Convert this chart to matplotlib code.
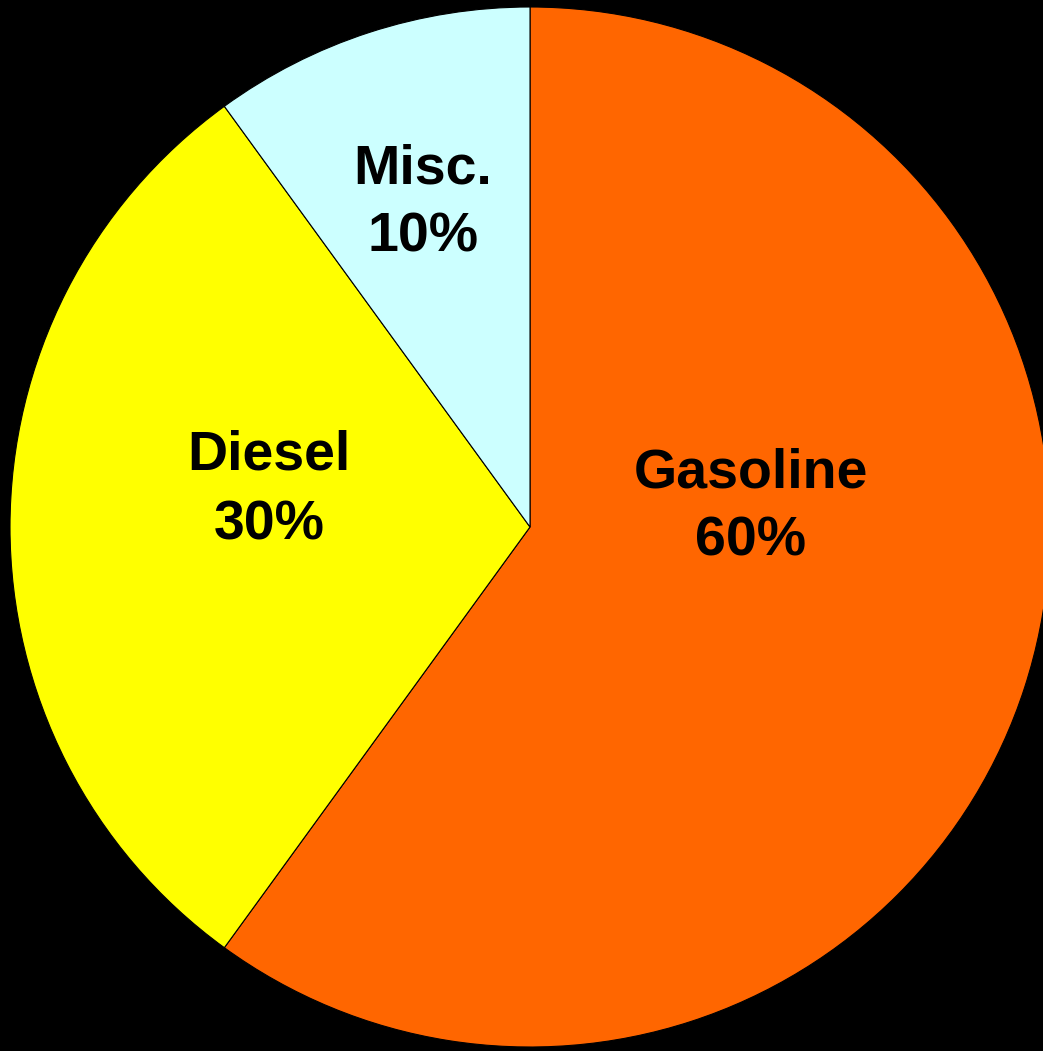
import matplotlib
matplotlib.use("Agg")
import matplotlib.pyplot as plt

# ----- data -----
labels = ["Gasoline", "Diesel", "Misc."]
shares = [60, 30, 10]
colors = ["#FF6600", "#FFFF00", "#CCFFFF"]

# label anchors: x centre and baseline of first line (pixels, origin top-left)
label_pos = [(751, 487), (269, 470), (423, 183)]
LINE_GAP = 69  # px between the two baselines

W, H = 1043, 1051
CX, CY, R = 530, 527, 520

fig = plt.figure(figsize=(W / 100, H / 100), dpi=100, facecolor="black")
ax = fig.add_axes([0, 0, 1, 1])
ax.set_facecolor("black")

ax.pie(shares, colors=colors, startangle=90, counterclock=False,
       center=(CX, H - CY), radius=R,
       wedgeprops=dict(edgecolor="black", linewidth=0.8))

style = dict(ha="center", va="baseline", fontsize=40, fontweight="bold",
             family="Liberation Sans", color="black")
for lab, val, (x, y) in zip(labels, shares, label_pos):
    ax.text(x, H - y, lab, **style)
    ax.text(x, H - y - LINE_GAP, f"{val}%", **style)

ax.set_xlim(0, W)
ax.set_ylim(0, H)
ax.set_aspect("equal")
ax.axis("off")

fig.savefig("out.png", dpi=100, facecolor="black")
